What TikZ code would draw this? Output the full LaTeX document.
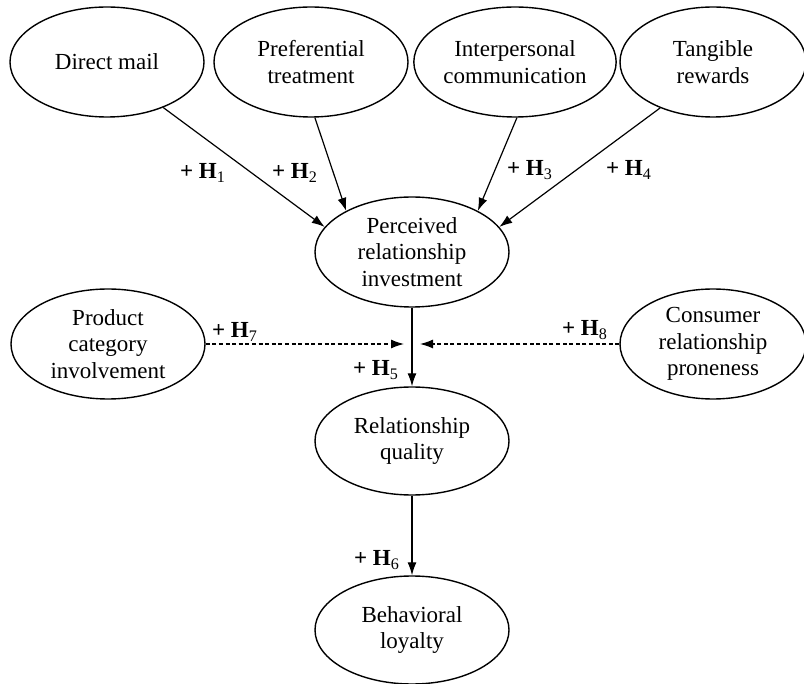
\documentclass[tikz,border=0pt]{standalone}
\usepackage{fontspec}
\setmainfont{Liberation Serif}
\usetikzlibrary{arrows.meta,shapes.geometric}
\tikzset{
  construct/.style={ellipse,draw,line width=0.7pt,minimum width=97pt,
    minimum height=55pt,inner sep=0pt,align=center,
    font=\fontsize{11.5}{13.3}\selectfont},
  link/.style={-{Latex[length=6.5pt,width=4.5pt]},line width=0.6pt},
  moderation/.style={link,dash pattern=on 2pt off 1.3pt},
  hyp/.style={font=\fontsize{11.5}{13.3}\selectfont\bfseries}
}
\newcommand{\hsub}[1]{+ H\textsubscript{\mdseries #1}}

\begin{document}
\begin{tikzpicture}[x=0.5pt,y=-0.5pt]
  \useasboundingbox (0,0) rectangle (804,684);
  \node[construct] (mail) at (107,62) {Direct mail};
  \node[construct] (pref) at (311,62) {Preferential\\treatment};
  \node[construct] (inter) at (515,62) {Interpersonal\\communication};
  \node[construct,minimum width=93pt] (tang) at (713,62) {Tangible\\rewards};
  \node[construct] (invest) at (412,252) {Perceived\\relationship\\investment};
  \node[construct] (prod) at (108,344) {Product\\category\\involvement};
  \node[construct,minimum width=93pt] (prone) at (713,344) {Consumer\\relationship\\proneness};
  \node[construct,minimum height=54pt] (quality) at (412,441) {Relationship\\quality};
  \node[construct,minimum height=54pt] (loyal) at (412,630) {Behavioral\\loyalty};
  \coordinate (h7end) at (404,344);
  \coordinate (h8end) at (420,344);

  \draw[link] (mail.-39) -- (invest.164);
  \draw[link] (pref.-86) -- (invest.148);
  \draw[link] (inter.-88) -- (invest.32);
  \draw[link] (tang.-139) -- (invest.16);
  \draw[link] (invest) -- (quality);
  \draw[link] (quality) -- (loyal);
  \draw[moderation] (prod) -- (h7end);
  \draw[moderation] (prone) -- (h8end);

  \node[hyp] (h1) at (203,173) {\hsub{1}};
  \node[hyp] (h2) at (295,173) {\hsub{2}};
  \node[hyp] (h3) at (530,170) {\hsub{3}};
  \node[hyp] (h4) at (629,170) {\hsub{4}};
  \node[hyp] (h5) at (376,370) {\hsub{5}};
  \node[hyp] (h6) at (377,560) {\hsub{6}};
  \node[hyp] (h7) at (235,332) {\hsub{7}};
  \node[hyp] (h8) at (585,330) {\hsub{8}};
\end{tikzpicture}
\end{document}
